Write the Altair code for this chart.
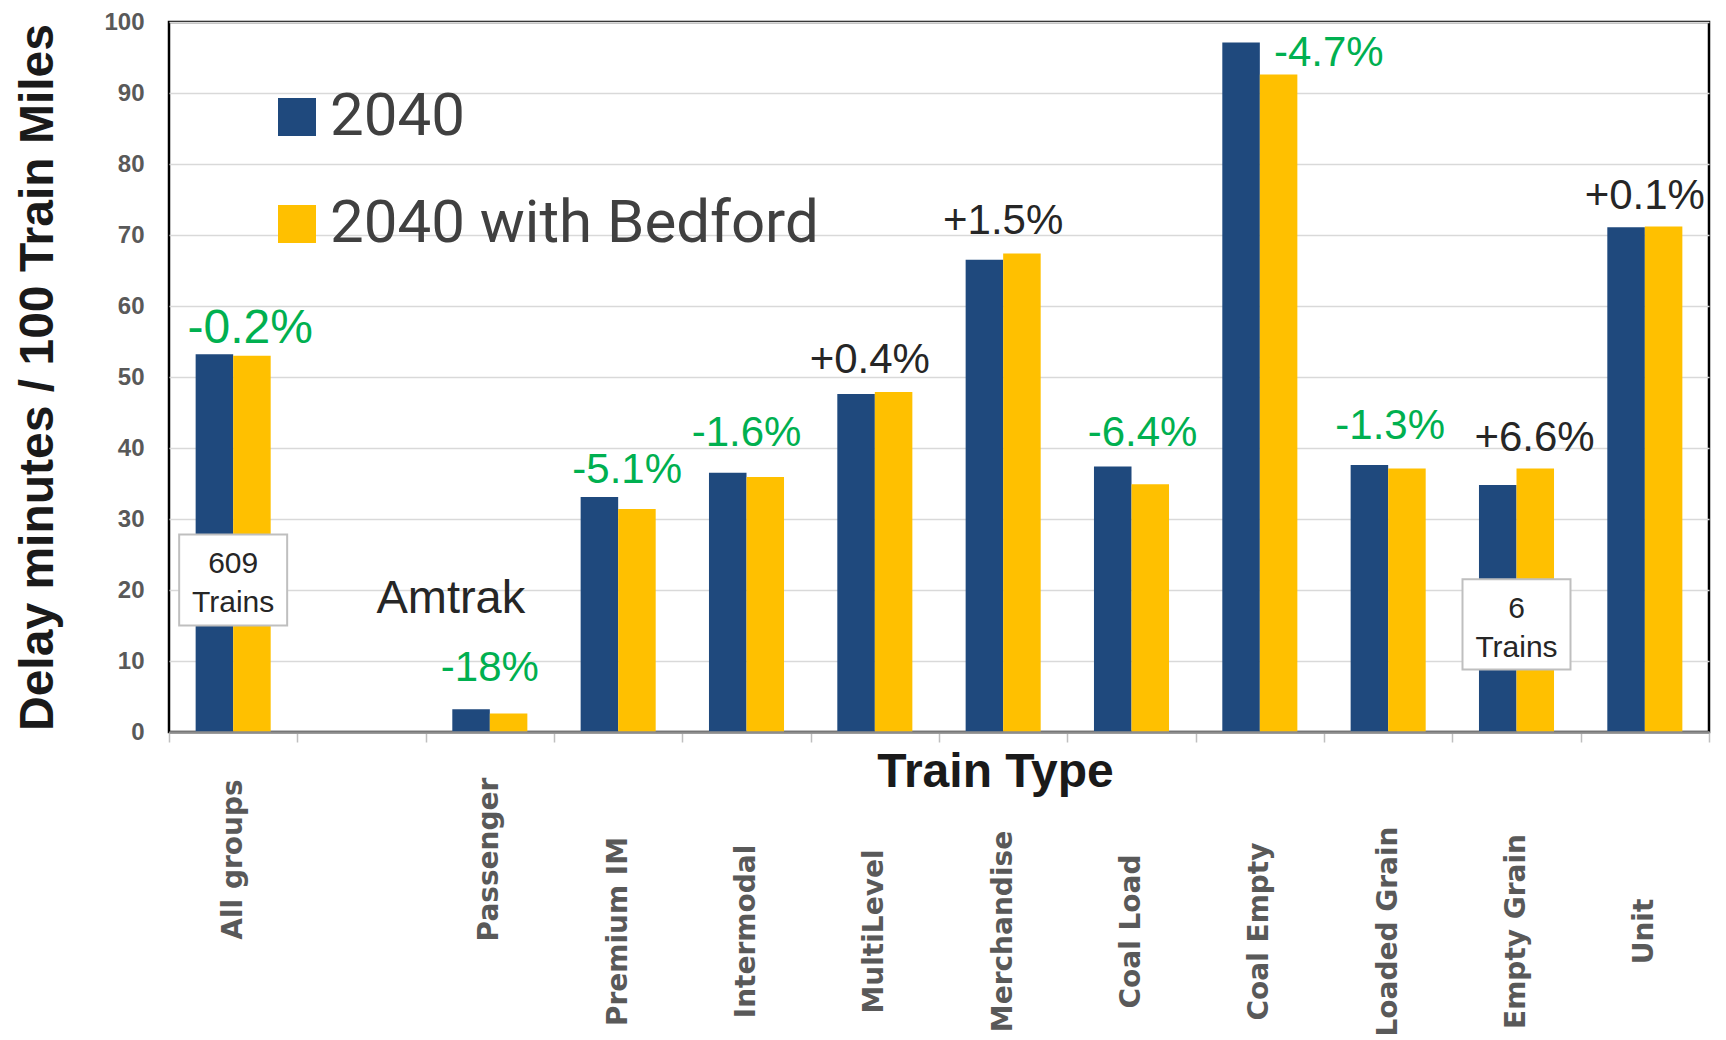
import altair as alt
import pandas as pd

# ---------------- data ----------------
categories = ["All groups", " ", "Passenger", "Premium IM", "Intermodal", "MultiLevel",
              "Merchandise", "Coal Load", "Coal Empty", "Loaded Grain", "Empty Grain", "Unit"]
series_names = ["2040", "2040 with Bedford"]
values_2040 = [53.2, None, 3.2, 33.1, 36.5, 47.6, 66.5, 37.4, 97.1, 37.6, 34.8, 71.1]
values_bedford = [53.0, None, 2.6, 31.4, 35.9, 47.9, 67.4, 34.9, 92.6, 37.1, 37.1, 71.2]
change_labels = ["-0.2%", None, "-18%", "-5.1%", "-1.6%", "+0.4%",
                 "+1.5%", "-6.4%", "-4.7%", "-1.3%", "+6.6%", "+0.1%"]
train_notes = [("All groups", "609\nTrains"), ("Empty Grain", "6\nTrains")]
amtrak_note = ("Passenger", "Amtrak")

# ---------------- layout (not data) ----------------
label_y = [54.8, None, 7.2, 35.1, 40.3, 50.5, 70.2, 40.3, 93.8, 41.2, 39.6, 73.7]
label_dx = [17, None, 0, 9, 0, -5, 0, 11, 69, 2, 18, 0]
label_size = [48, None, 42, 42, 42, 42, 42, 42, 42, 42, 42, 42]
note_box = [(27.8, 15.0, 23.7), (21.5, 8.8, 17.3)]  # top, bottom, first-line centre (y units)

BLUE = "#1F497D"
GOLD = "#FFC000"
GREEN = "#00B050"
DARK = "#262626"

rows = []
for c, a, b in zip(categories, values_2040, values_bedford):
    if a is not None:
        rows.append({"category": c, "series": series_names[0], "value": a})
        rows.append({"category": c, "series": series_names[1], "value": b})
bars_df = pd.DataFrame(rows)

x_enc = alt.X(
    "category:N",
    scale=alt.Scale(domain=categories, paddingInner=0, paddingOuter=0),
    title="Train Type",
    axis=alt.Axis(
        labelAngle=-90, labelAlign="center", labelBaseline="middle",
        labelFont="DejaVu Sans", labelFontWeight="bold", labelFontSize=28,
        labelColor="#595959",
        labelPadding={"condition": {"test": "datum.value == 'All groups' || datum.value == 'Passenger'",
                                    "value": 117},
                      "value": 189},
        labelLimit=0, labelOverlap=False,
        tickBand="extent", ticks=True, tickSize=10, tickColor="#BFBFBF", tickWidth=1.5,
        domainColor="#8C8C8C", domainWidth=2.5, grid=False, zindex=1,
        titleFont="Liberation Sans", titleFontWeight="bold", titleFontSize=48,
        titleColor="#1A1A1A", titleX=826, titleY=54, titleAlign="center",
        titleBaseline="alphabetic",
    ),
)
y_enc = alt.Y(
    "value:Q",
    scale=alt.Scale(domain=[0, 100], nice=False),
    title="Delay minutes / 100 Train Miles",
    axis=alt.Axis(
        values=list(range(0, 101, 10)), ticks=False, domain=False,
        labelFont="Liberation Sans", labelFontWeight="bold", labelFontSize=24,
        labelColor="#595959", labelPadding=25,
        grid=True, gridColor="#D9D9D9", gridWidth=1.5,
        titleFont="Liberation Sans", titleFontWeight="bold", titleFontSize=48,
        titleColor="#1A1A1A", titlePadding=41,
    ),
)

bars = alt.Chart(bars_df).mark_bar().encode(
    x=x_enc,
    y=y_enc,
    xOffset=alt.XOffset("series:N", sort=series_names,
                        scale=alt.Scale(paddingInner=0, paddingOuter=0.71)),
    color=alt.Color(
        "series:N", sort=series_names,
        scale=alt.Scale(domain=series_names, range=[BLUE, GOLD]),
        legend=alt.Legend(
            orient="none", legendX=98, legendY=65, title=None,
            symbolType="square", symbolSize=1444, symbolStrokeWidth=0, symbolOpacity=1,
            labelFont="Roboto", labelFontSize=60, labelColor="#404040",
            rowPadding=47, labelOffset=3, labelLimit=0,
        ),
    ),
)

layers = [bars]

# percent change labels
for c, t, ly, dx, fs in zip(categories, change_labels, label_y, label_dx, label_size):
    if t is None:
        continue
    df = pd.DataFrame({"category": [c], "value": [ly], "label": [t]})
    col = GREEN if t.startswith("-") else DARK
    layers.append(
        alt.Chart(df).mark_text(
            dx=dx, font="Liberation Sans", fontSize=fs, color=col,
            align="center", baseline="alphabetic",
        ).encode(x=x_enc, y=y_enc, text="label:N")
    )

# boxed train-count notes
for (c, t), (top, bot, mid) in zip(train_notes, note_box):
    box_df = pd.DataFrame({"category": [c], "value": [top], "value2": [bot]})
    layers.append(
        alt.Chart(box_df).mark_rect(
            width=108, fill="white", stroke="#BFBFBF", strokeWidth=2,
        ).encode(x=x_enc, y=y_enc, y2="value2:Q")
    )
    txt_df = pd.DataFrame({"category": [c], "value": [mid], "label": [t]})
    layers.append(
        alt.Chart(txt_df).mark_text(
            font="Liberation Sans", fontSize=30, color=DARK, lineBreak="\n",
            lineHeight=39, align="center", baseline="middle",
        ).encode(x=x_enc, y=y_enc, text="label:N")
    )

am_df = pd.DataFrame({"category": [amtrak_note[0]], "value": [16.7], "label": [amtrak_note[1]]})
layers.append(
    alt.Chart(am_df).mark_text(
        dx=-39, font="Liberation Sans", fontSize=47, color=DARK,
        align="center", baseline="alphabetic",
    ).encode(x=x_enc, y=y_enc, text="label:N")
)

chart = (
    alt.layer(*layers)
    .properties(width=1540, height=710,
                padding={"left": 6, "top": 2, "right": 4, "bottom": 0},
                background="white")
    .configure_view(stroke="black", strokeWidth=2.5)
)

chart.save("out.html", embed_options={"renderer": "svg", "actions": False})
